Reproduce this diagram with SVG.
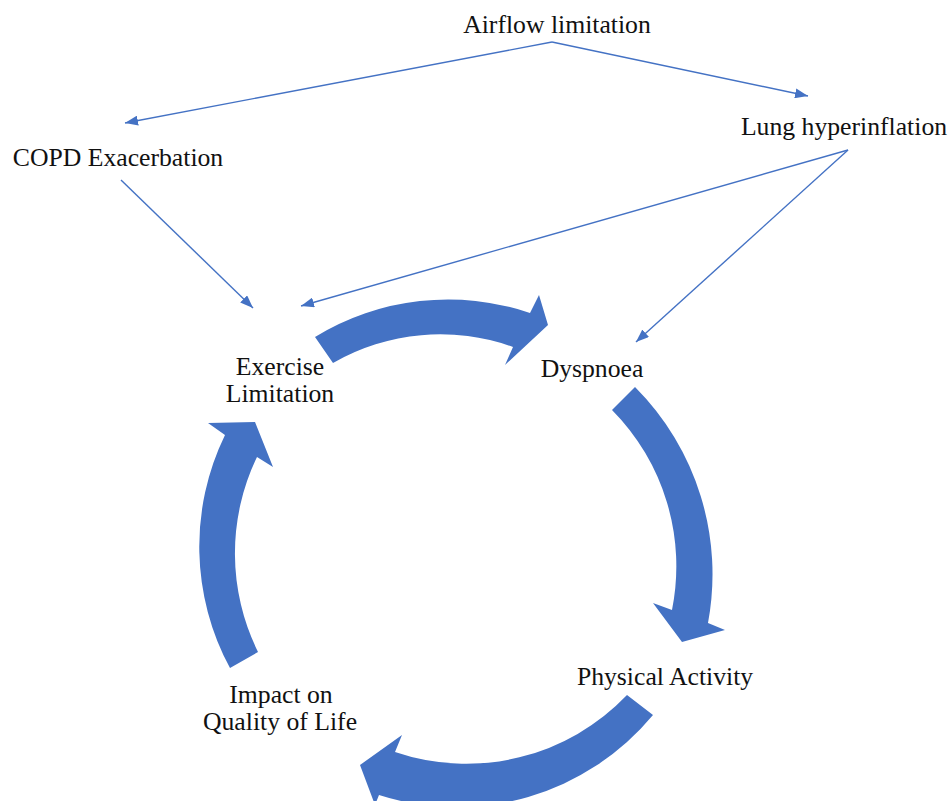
<svg xmlns="http://www.w3.org/2000/svg" width="952" height="801" viewBox="0 0 952 801">
  <style>
    .lbl { font-family: "Liberation Serif", "Times New Roman", serif; font-size: 25.7px; fill: #111111; text-anchor: middle; }
    .link { stroke: #4472C4; stroke-width: 1.4; fill: none; marker-end: url(#tip); }
    .cycle { fill: #4472C4; stroke: none; }
  </style>
  <defs>
    <marker id="tip" markerUnits="userSpaceOnUse" markerWidth="14" markerHeight="10" refX="13" refY="5" orient="auto">
      <path d="M0,0 L13,5 L0,10 Z" fill="#4472C4"/>
    </marker>
  </defs>
  <rect width="952" height="801" fill="#ffffff"/>

  <!-- thin causal links -->
  <g id="connectors">
    <line class="link" x1="552" y1="42" x2="125" y2="123"/>
    <line class="link" x1="552" y1="42" x2="808" y2="96"/>
    <line class="link" x1="121" y1="180" x2="253" y2="308"/>
    <line class="link" x1="848" y1="150" x2="301" y2="306"/>
    <line class="link" x1="848" y1="150" x2="636" y2="342"/>
  </g>

  <!-- circular cycle arrows -->
  <g id="cycle">
    <path class="cycle" d="M315,337 A255,255 0 0 1 530,313 L539,295 L548,325 L505,365 L513,347 A215,215 0 0 0 333,363 Z"/>
    <path class="cycle" d="M635,387 A265,265 0 0 1 708,623 L725,630 L682,642 L653,603 L672,610 A222,222 0 0 0 612,410 Z"/>
    <path class="cycle" d="M627,695 L653,715 A255,255 0 0 1 379,795 L375,805 L360,765 L402,735 L395,752 A222,222 0 0 0 627,695 Z"/>
    <path class="cycle" d="M230,668 L258,652 A222,222 0 0 1 257,457 L273,467 L255,422 L208,423 L225,435 A255,255 0 0 0 230,668 Z"/>
  </g>

  <g id="airflow"><text class="lbl" x="557" y="33">Airflow limitation</text></g>
  <g id="copd"><text class="lbl" x="118" y="166">COPD Exacerbation</text></g>
  <g id="hyperinflation"><text class="lbl" x="844" y="135">Lung hyperinflation</text></g>
  <g id="exercise">
    <text class="lbl" x="280" y="375">Exercise</text>
    <text class="lbl" x="280" y="402">Limitation</text>
  </g>
  <g id="dyspnoea"><text class="lbl" x="592" y="377">Dyspnoea</text></g>
  <g id="activity"><text class="lbl" x="665" y="685">Physical Activity</text></g>
  <g id="quality">
    <text class="lbl" x="281" y="703">Impact on</text>
    <text class="lbl" x="280" y="730">Quality of Life</text>
  </g>
</svg>
